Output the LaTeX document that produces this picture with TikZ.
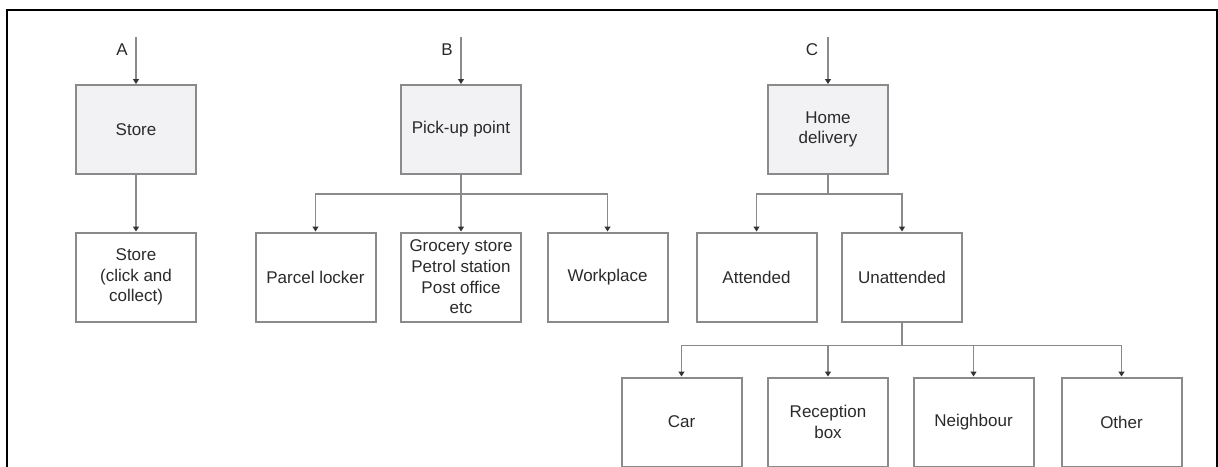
\documentclass[tikz,border=0pt]{standalone}
\usepackage{fontspec}
\setmainfont{Liberation Sans}
\usetikzlibrary{arrows.meta}
\definecolor{linegray}{HTML}{8A8A8A}
\definecolor{boxfill}{HTML}{F2F2F5}
\definecolor{txtgray}{HTML}{2A2A2A}
\begin{document}
\begin{tikzpicture}[x=1pt,y=-1pt,
		box/.style={draw=linegray,line width=2pt,minimum width=120pt,minimum height=89pt,align=center,text=txtgray,font=\fontsize{17}{20.6}\selectfont},
		topbox/.style={box,fill=boxfill},
		arr/.style={draw=linegray,line width=1.6pt,-{Triangle[length=5pt,width=6pt,color=black!80]}},
		lbl/.style={text=txtgray,font=\fontsize{17}{20}\selectfont}]
			\path[use as bounding box,clip] (0,0) rectangle (1218,466);
			\draw[line width=1.5pt] (7,480) -- (7,10) -- (1217,10) -- (1217,480);
			\node[topbox] (store) at (136,129.5) {Store};
			\node[topbox] (pickup) at (461,129.5) {Pick-up point};
			\node[topbox] (home) at (828,129.5) {Home\\delivery};
			\node[box] (click) at (136,277) {Store\\(click and\\collect)};
			\node[box] (parcel) at (315.5,277) {Parcel locker};
			\node[box] (grocery) at (461,277) {Grocery store\\Petrol station\\Post office\\etc};
			\node[box] (workplace) at (607.5,277) {Workplace};
			\node[box] (attended) at (756.5,277) {Attended};
			\node[box] (unatt) at (902,277) {Unattended};
			\node[box] (car) at (681.5,422) {Car};
			\node[box] (reception) at (828,422) {Reception\\box};
			\node[box] (neighbour) at (973.5,422) {Neighbour};
			\node[box] (other) at (1121.5,422) {Other};
			\coordinate (inA) at (136,37);
			\coordinate (inB) at (461,37);
			\coordinate (inC) at (828,37);
			\node[lbl] (labA) at (122,50) {A};
			\node[lbl] (labB) at (447,50) {B};
			\node[lbl] (labC) at (812,50) {C};
			\draw[arr] (inA) -- (store);
			\draw[arr] (inB) -- (pickup);
			\draw[arr] (inC) -- (home);
			\draw[arr] (store) -- (click);
			\draw[arr] (pickup) -- (grocery);
			\draw[arr] (pickup.south) -- ++(0,19) -| (parcel.north);
			\draw[arr] (pickup.south) -- ++(0,19) -| (workplace.north);
			\draw[arr] (home.south) -- ++(0,19) -| (attended.north);
			\draw[arr] (home.south) -- ++(0,19) -| (unatt.north);
			\draw[arr] (unatt.south) -- ++(0,23) -| (car.north);
			\draw[arr] (unatt.south) -- ++(0,23) -| (reception.north);
			\draw[arr] (unatt.south) -- ++(0,23) -| (neighbour.north);
			\draw[arr] (unatt.south) -- ++(0,23) -| (other.north);
\end{tikzpicture}
\end{document}
